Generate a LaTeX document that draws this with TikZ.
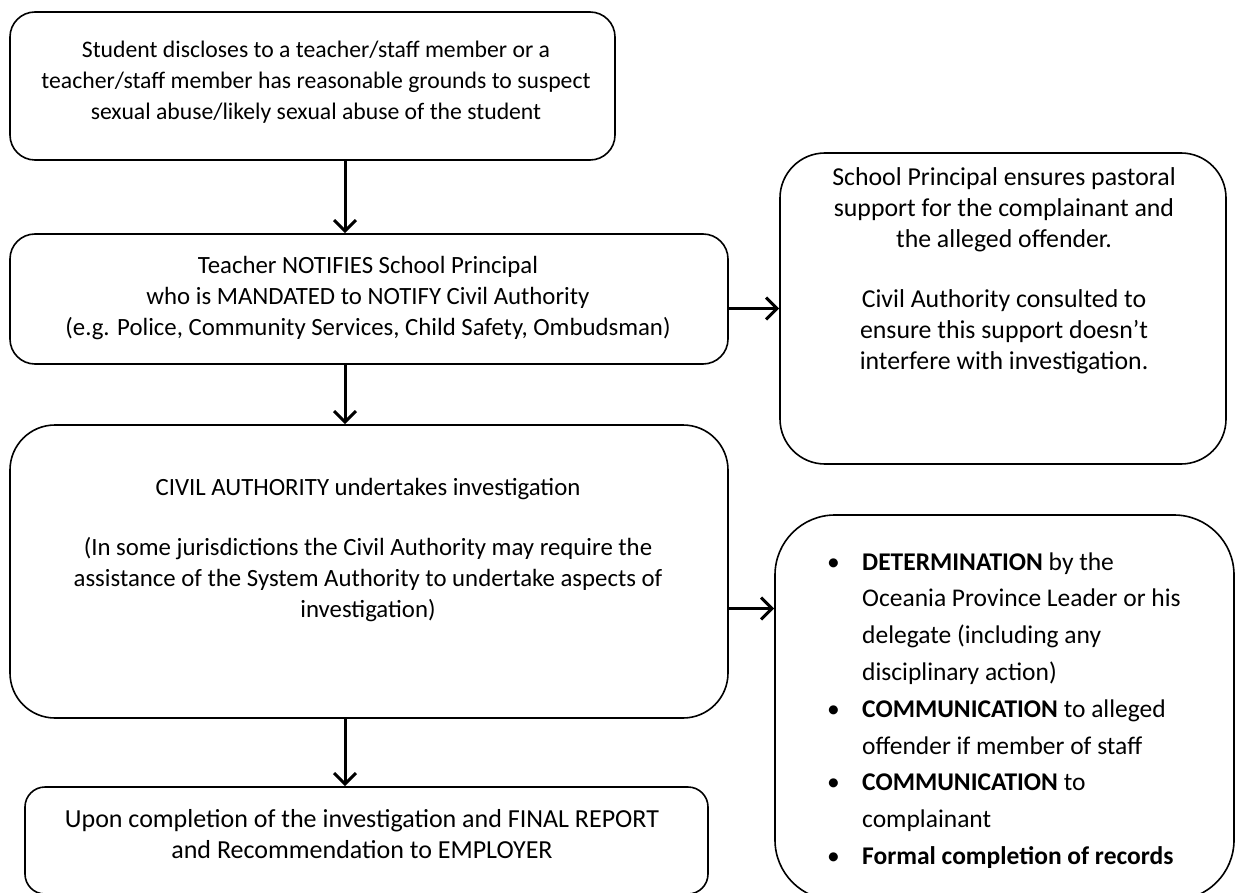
\documentclass[tikz,border=0pt]{standalone}
\usepackage{fontspec}
\setmainfont{Carlito}
\usepackage{tikz}
\usetikzlibrary{arrows.meta, positioning}

\begin{document}
\begin{tikzpicture}[x=1pt, y=-1pt,
  box/.style={draw, line width=1.6pt, rounded corners=#1, inner sep=0pt},
  box/.default=25pt,
  txt/.style={align=center, font=\fontsize{23.7}{31}\selectfont, inner sep=0pt},
  flow/.style={-{Straight Barb[length=11pt, width=22pt, line width=3pt]}, line width=3pt}]
  \useasboundingbox (0,0) rectangle (1236,893);
  \coordinate (spine) at (345,0);
  \node[box, minimum width=605pt, minimum height=148pt] (start) at (312.5,86) {};
  \node[box, minimum width=718pt, minimum height=130pt] (notify) at (369,299) {};
  \node[box=45pt, minimum width=446pt, minimum height=311pt] (pastoral) at (1003,308.5) {};
  \node[box=45pt, minimum width=718pt, minimum height=293pt] (civil) at (369,571.5) {};
  \node[box=60pt, minimum width=459pt, minimum height=385pt] (outcome) at (1004.5,707.5) {};
  \node[box=20pt, minimum width=683pt, minimum height=107pt] (report) at (366.5,840.5) {};

  \node[txt] (startText) at (316,82) {Student discloses to a teacher/staff member or a\\
    teacher/staff member has reasonable grounds to suspect\\
    sexual abuse/likely sexual abuse of the student};
  \node[txt, font=\fontsize{24.8}{31}\selectfont] (notifyText) at (368,298) {Teacher NOTIFIES School Principal\\
    who is MANDATED to NOTIFY Civil Authority\\
    (e.g. Police, Community Services, Child Safety, Ombudsman)};
  \node[txt, font=\fontsize{25.8}{31}\selectfont] (pastoralText) at (1004,271) {School Principal ensures pastoral\\
    support for the complainant and\\
    the alleged offender.\\[29pt]
    Civil Authority consulted to\\
    ensure this support doesn’t\\
    interfere with investigation.};
  \node[txt, font=\fontsize{24.8}{31}\selectfont] (civilText) at (368,550) {CIVIL AUTHORITY undertakes investigation\\[29pt]
    (In some jurisdictions the Civil Authority may require the\\
    assistance of the System Authority to undertake aspects of\\
    investigation)};
  \node[txt, align=left, anchor=west, font=\fontsize{25.5}{36.8}\selectfont] (outcomeText) at (827,710)
    {\begin{tabular}{@{}p{35pt}@{}l@{}}
      \textbullet & \textbf{DETERMINATION} by the\\
      & Oceania Province Leader or his\\
      & delegate (including any\\
      & disciplinary action)\\
      \textbullet & \textbf{COMMUNICATION} to alleged\\
      & offender if member of staff\\
      \textbullet & \textbf{COMMUNICATION} to\\
      & complainant\\
      \textbullet & \textbf{Formal completion of records}
    \end{tabular}};
  \node[txt, font=\fontsize{26}{31}\selectfont] (reportText) at (362,834) {Upon completion of the investigation and FINAL REPORT\\
    and Recommendation to EMPLOYER};

  \draw[flow] (start.south -| spine) -- (notify.north -| spine);
  \draw[flow] (notify.south -| spine) -- (civil.north -| spine);
  \draw[flow] (civil.south -| spine) -- (report.north -| spine);
  \draw[flow] (notify.east |- pastoral.west) -- (pastoral.west);
  \draw[flow] ([yshift=-37pt]civil.east) -- ([yshift=-37pt]civil.east -| outcome.west);
\end{tikzpicture}
\end{document}
